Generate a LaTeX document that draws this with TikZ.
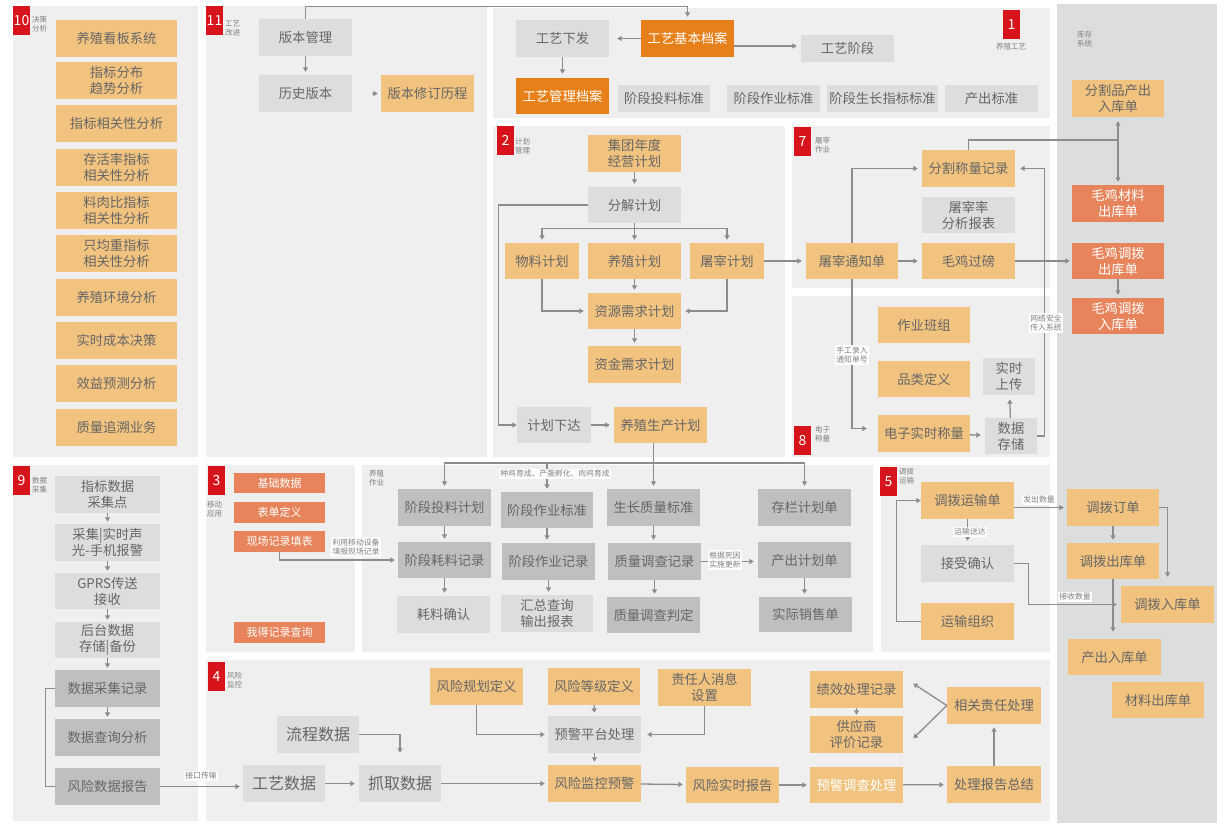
\documentclass[tikz,border=0pt]{standalone}
\usepackage{fontspec}
\setmainfont{Noto Sans CJK SC}
\usetikzlibrary{arrows.meta}

\definecolor{peach}{HTML}{F2C37F}
\definecolor{lgray}{HTML}{DCDDDD}
\definecolor{mgray}{HTML}{BFBFBF}
\definecolor{orng}{HTML}{E8801A}
\definecolor{salmon}{HTML}{E8845C}
\definecolor{badgered}{HTML}{D7141C}
\definecolor{panelc}{HTML}{EFEFEF}
\definecolor{storec}{HTML}{DCDDDD}
\definecolor{txtc}{HTML}{666666}
\definecolor{tagc}{HTML}{808080}
\definecolor{lnc}{HTML}{8C8C8C}

% box given by its corners: name, style, x1, y1, x2, y2, text
\newcommand\placebox[7]{%
  \pgfmathsetmacro\pbw{#5-#3}\pgfmathsetmacro\pbh{#6-#4}%
  \pgfmathsetmacro\pbx{(#3+#5)/2}\pgfmathsetmacro\pby{(#4+#6)/2}%
  \node[#2, minimum width=\pbw pt, minimum height=\pbh pt] (#1) at (\pbx,\pby) {#7};}

\tikzset{
  box/.style={inner sep=0pt, align=center, text=txtc, font=\fontsize{13.3}{16}\selectfont},
  pbox/.style={box, fill=peach},
  gbox/.style={box, fill=lgray},
  mbox/.style={box, fill=mgray},
  obox/.style={box, fill=orng, text=white},
  sbox/.style={box, fill=salmon, text=white},
  bigtext/.style={font=\fontsize{16}{19}\selectfont},
  smalltext/.style={font=\fontsize{11}{13}\selectfont},
  badge/.style={inner sep=0pt, fill=badgered, text=white, font=\fontsize{14}{14}\selectfont},
  tag/.style={inner sep=0pt, align=left, text=tagc, font=\fontsize{7.5}{9}\selectfont},
  note/.style={fill=white, text=tagc, inner sep=1.5pt, align=center, font=\fontsize{7.8}{9.5}\selectfont},
  arr/.style={draw=lnc, line width=1.3pt, -{Triangle[length=4.5pt,width=5pt]}},
  biarr/.style={draw=lnc, line width=1.3pt, {Triangle[length=4.5pt,width=5pt]}-{Triangle[length=4.5pt,width=5pt]}},
  lin/.style={draw=lnc, line width=1.3pt},
}

\begin{document}
\begin{tikzpicture}[x=1pt,y=-1pt]
\useasboundingbox (0,0) rectangle (1217,823);
\fill[white] (0,0) rectangle (1217,823);

% ---------- panels ----------
\fill[panelc] (13,6) rectangle (198,457);
\fill[panelc] (206,6) rectangle (487,457);
\fill[panelc] (493,8) rectangle (1050,118);
\fill[panelc] (493,126) rectangle (785,457);
\fill[panelc] (792,126) rectangle (1050,288);
\fill[panelc] (792,296) rectangle (1050,457);
\fill[storec] (1057,4) rectangle (1217,823);
\fill[panelc] (13,465) rectangle (198,821);
\fill[panelc] (206,465) rectangle (355,652);
\fill[panelc] (362,465) rectangle (873,652);
\fill[panelc] (881,465) rectangle (1050,652);
\fill[panelc] (206,660) rectangle (1050,821);

% ---------- badges and captions ----------
\placebox{b10}{badge}{13}{6}{30}{35}{10}
\node[tag, anchor=north west] (t10) at (32,16) {决策\\分析};
\placebox{b11}{badge}{206}{6}{223}{35}{11}
\node[tag, anchor=north west] (t11) at (225,20) {工艺\\改进};
\placebox{b1}{badge}{1003}{10}{1020}{39}{1}
\node[tag] (t1) at (1011,47) {养殖工艺};
\placebox{b2}{badge}{497}{126}{514}{155}{2}
\node[tag, anchor=north west] (t2) at (515,138) {计划\\管理};
\placebox{b7}{badge}{794}{127}{811}{156}{7}
\node[tag, anchor=north west] (t7) at (815,137) {屠宰\\作业};
\placebox{b8}{badge}{794}{426}{811}{455}{8}
\node[tag, anchor=north west] (t8) at (815,426) {电子\\称量};
\placebox{b9}{badge}{13}{466}{30}{495}{9}
\node[tag, anchor=north west] (t9) at (32,477) {数据\\采集};
\placebox{b3}{badge}{208}{466}{225}{495}{3}
\node[tag, anchor=north west] (t3) at (207,501) {移动\\应用};
\placebox{b5}{badge}{880}{467}{897}{496}{5}
\node[tag, anchor=north west] (t5) at (899,468) {调拨\\运输};
\placebox{b4}{badge}{208}{662}{225}{691}{4}
\node[tag, anchor=north west] (t4) at (227,672) {风险\\监控};
\node[tag, anchor=north west] (tn) at (369,470) {养殖\\作业};
\node[tag, anchor=north west] (ts) at (1077,31) {库存\\系统};

% ---------- 10 decision analysis ----------
\placebox{d1}{pbox}{56}{20}{177}{57}{养殖看板系统}
\placebox{d2}{pbox}{56}{62}{177}{99}{指标分布\\趋势分析}
\placebox{d3}{pbox}{56}{105}{177}{142}{指标相关性分析}
\placebox{d4}{pbox}{56}{149}{177}{186}{存活率指标\\相关性分析}
\placebox{d5}{pbox}{56}{192}{177}{229}{料肉比指标\\相关性分析}
\placebox{d6}{pbox}{56}{235}{177}{272}{只均重指标\\相关性分析}
\placebox{d7}{pbox}{56}{279}{177}{316}{养殖环境分析}
\placebox{d8}{pbox}{56}{322}{177}{359}{实时成本决策}
\placebox{d9}{pbox}{56}{365}{177}{402}{效益预测分析}
\placebox{d10}{pbox}{56}{409}{177}{446}{质量追溯业务}

% ---------- 11 process improvement ----------
\placebox{v1}{gbox}{259}{19}{352}{56}{版本管理}
\placebox{v2}{gbox}{259}{75}{352}{112}{历史版本}
\placebox{v3}{pbox}{381}{75}{474}{112}{版本修订历程}
\draw[arr, shorten >=3pt] (v1) -- (v2);
\draw[arr, shorten <=20pt, shorten >=3pt] (v2) -- (v3);

% ---------- 1 breeding process ----------
\placebox{k0}{gbox}{516}{20}{609}{57}{工艺下发}
\placebox{k2}{obox}{516}{78}{609}{114}{工艺管理档案}
\placebox{k1}{obox}{641}{20}{734}{57}{工艺基本档案}
\placebox{k3}{gbox}{801}{35}{894}{62}{工艺阶段}
\placebox{s1}{gbox}{618}{85}{710}{112}{阶段投料标准}
\placebox{s2}{gbox}{727}{85}{820}{112}{阶段作业标准}
\placebox{s3}{gbox}{827}{85}{938}{112}{阶段生长指标标准}
\placebox{s4}{gbox}{945}{85}{1038}{112}{产出标准}
\draw[arr, shorten >=3pt] (v1.north) -- ++(0,-12) -| (k1.north);
\draw[arr, shorten >=4pt] (k0) -- (k2);
\draw[arr, shorten >=8pt] (k1) -- (k0);
\draw[arr, shorten >=4pt] ([yshift=-7.5pt]k1.east) -- ([yshift=-7.5pt]k1.east -| k3.west);

% ---------- 2 planning ----------
\placebox{p1}{pbox}{588}{135}{681}{172}{集团年度\\经营计划}
\placebox{p2}{gbox}{588}{187}{681}{223}{分解计划}
\placebox{p3}{pbox}{505}{243}{579}{279}{物料计划}
\placebox{p4}{pbox}{588}{243}{681}{279}{养殖计划}
\placebox{p5}{pbox}{690}{243}{764}{279}{屠宰计划}
\placebox{p6}{pbox}{588}{293}{681}{329}{资源需求计划}
\placebox{p7}{pbox}{588}{346}{681}{383}{资金需求计划}
\placebox{p8}{gbox}{517}{407}{591}{443}{计划下达}
\placebox{p9}{pbox}{614}{407}{707}{443}{养殖生产计划}
\draw[arr, shorten >=3pt] (p1) -- (p2);
\coordinate (br) at ([yshift=-5pt]p2.south);
\draw[lin] (p2.south) -- (br);
\draw[arr, shorten >=3pt] (br) -| (p3.north);
\draw[arr, shorten >=3pt] (br) -- (p4.north);
\draw[arr, shorten >=3pt] (br) -| (p5.north);
\draw[arr, shorten >=3pt] (p4) -- (p6);
\draw[arr, shorten >=4pt] (p3.south) |- (p6.west);
\draw[arr, shorten >=4pt] (p5.south) |- (p6.east);
\draw[arr, shorten >=3pt] (p6) -- (p7);
\draw[arr] (p2.west) -- ++(-89,0) |- (p8.west);
\draw[arr, shorten >=4pt] (p8) -- (p9);

% ---------- 7 slaughter ----------
\placebox{u1}{pbox}{922}{150}{1015}{187}{分割称量记录}
\placebox{u2}{gbox}{922}{197}{1015}{233}{屠宰率\\分析报表}
\placebox{u3}{pbox}{806}{243}{898}{279}{屠宰通知单}
\placebox{u4}{pbox}{922}{243}{1015}{279}{毛鸡过磅}

% ---------- 8 electronic weighing ----------
\placebox{e1}{pbox}{878}{307}{970}{343}{作业班组}
\placebox{e2}{pbox}{878}{361}{970}{397}{品类定义}
\placebox{e3}{pbox}{878}{415}{970}{452}{电子实时称量}
\placebox{e4}{gbox}{983}{358}{1035}{395}{实时\\上传}
\placebox{e5}{gbox}{985}{418}{1037}{454}{数据\\存储}

% ---------- inventory column ----------
\placebox{w1}{pbox}{1072}{80}{1164}{117}{分割品产出\\入库单}
\placebox{w2}{sbox}{1072}{185}{1164}{222}{毛鸡材料\\出库单}
\placebox{w3}{sbox}{1072}{243}{1164}{279}{毛鸡调拨\\出库单}
\placebox{w4}{sbox}{1072}{298}{1164}{334}{毛鸡调拨\\入库单}

\draw[arr, shorten >=4pt] (p5) -- (u3);
\draw[arr, shorten >=4pt] (u3.north) |- (u1.west);
\draw[arr, shorten >=4pt] (u3) -- (u4);
\draw[arr, shorten >=11pt] (u3.south) |- ([yshift=5pt]e3.west);
\node[note] (n-manual) at (852,355) {手工录入\\通知单号};
\draw[arr, shorten >=4pt] (e3) -- (e5);
\draw[arr, shorten >=4pt] (e5) -- (e4);
\draw[arr, shorten >=5pt] (e5.east) -- ++(7,0) |- (u1.east);
\node[note] (n-net) at (1046,323) {网络安全\\传入系统};
\coordinate (wj) at (1118,140);
\draw[lin] (u1.north) |- (wj);
\draw[biarr, shorten <=4pt, shorten >=3pt] (w1.south) -- (w2.north);
\draw[arr, shorten >=2pt] (u4.east) -- (u4.east -| w3.west);
\draw[arr, shorten >=3pt] (w3) -- (w4);

% ---------- 9 data collection ----------
\placebox{c1}{gbox}{55}{476}{160}{513}{指标数据\\采集点}
\placebox{c2}{gbox}{55}{524}{160}{561}{采集|实时声\\光-手机报警}
\placebox{c3}{gbox}{55}{573}{160}{609}{GPRS传送\\接收}
\placebox{c4}{gbox}{55}{622}{160}{658}{后台数据\\存储|备份}
\placebox{c5}{mbox}{55}{670}{160}{707}{数据采集记录}
\placebox{c6}{mbox}{55}{719}{160}{756}{数据查询分析}
\placebox{c7}{mbox}{55}{768}{160}{805}{风险数据报告}
\draw[arr, shorten >=2pt] (c1) -- (c2);
\draw[arr, shorten >=2pt] (c2) -- (c3);
\draw[arr, shorten >=2pt] (c3) -- (c4);
\draw[arr, shorten >=2pt] (c4) -- (c5);
\draw[arr, shorten >=2pt] (c5) -- (c6);
\draw[lin] (c7.west) -- ++(-9,0) |- (c5.west);

% ---------- 3 mobile apps ----------
\placebox{m1}{sbox, smalltext}{234}{473}{325}{493}{基础数据}
\placebox{m2}{sbox, smalltext}{234}{502}{325}{523}{表单定义}
\placebox{m3}{sbox, smalltext}{234}{531}{325}{552}{现场记录填表}
\placebox{m4}{sbox, smalltext}{234}{622}{325}{643}{我得记录查询}

% ---------- breeding operations ----------
\placebox{n1}{mbox}{398}{489}{491}{526}{阶段投料计划}
\placebox{n2}{mbox}{501}{492}{593}{528}{阶段作业标准}
\placebox{n3}{mbox}{607}{489}{700}{526}{生长质量标准}
\placebox{n4}{mbox}{758}{489}{851}{526}{存栏计划单}
\placebox{n5}{mbox}{398}{542}{491}{578}{阶段耗料记录}
\placebox{n6}{mbox}{502}{543}{595}{580}{阶段作业记录}
\placebox{n7}{mbox}{608}{543}{701}{580}{质量调查记录}
\placebox{n8}{mbox}{758}{542}{851}{578}{产出计划单}
\placebox{n9}{gbox}{397}{596}{490}{633}{耗料确认}
\placebox{n10}{gbox}{501}{595}{593}{632}{汇总查询\\输出报表}
\placebox{n11}{mbox}{607}{597}{700}{633}{质量调查判定}
\placebox{n12}{mbox}{759}{597}{852}{632}{实际销售单}

\coordinate (hub) at (653.5,463);
\draw[lin] (p9.south -| hub) -- (hub);
\draw[arr, shorten >=3pt] (hub) -| (n1.north);
\draw[arr, shorten >=3pt] (hub) -| (n2.north);
\draw[arr, shorten >=3pt] (hub) -- (n3.north);
\draw[arr, shorten >=3pt] (hub) -| (n4.north);
\node[note] (n-lines) at (555,474) {种鸡育成、产蛋孵化、肉鸡育成};
\draw[arr, shorten >=3pt] (n1.south) -- (n1.south |- n5.north);
\draw[arr, shorten >=3pt] (n5.south) -- (n5.south |- n9.north);
\draw[arr, shorten >=3pt] (n2.south) -- (n2.south |- n6.north);
\draw[arr, shorten >=3pt] (n6.south) -- (n6.south |- n10.north);
\draw[arr, shorten >=3pt] (n3.south) -- (n3.south |- n7.north);
\draw[arr, shorten >=3pt] (n7.south) -- (n7.south |- n11.north);
\draw[arr, shorten >=3pt] (n8.south) -- (n8.south |- n12.north);
\draw[arr, shorten >=4pt] (n7.east) -- (n7.east -| n8.west);
\node[note] (n-death) at (725,560) {根据死因\\实施更新};
\draw[arr, shorten >=3pt] (m3.south) |- (n5.west);
\node[note] (n-mobile) at (356,547) {利用移动设备\\填报现场记录};

% ---------- 5 transfer transport ----------
\placebox{f1}{pbox}{921}{482}{1014}{519}{调拨运输单}
\placebox{f2}{gbox}{921}{545}{1014}{582}{接受确认}
\placebox{f3}{pbox}{921}{603}{1014}{640}{运输组织}
\placebox{g1}{pbox}{1067}{489}{1159}{526}{调拨订单}
\placebox{g2}{pbox}{1067}{543}{1159}{579}{调拨出库单}
\placebox{g3}{pbox}{1121}{586}{1214}{623}{调拨入库单}
\placebox{g4}{pbox}{1068}{639}{1161}{675}{产出入库单}
\placebox{g5}{pbox}{1112}{682}{1204}{718}{材料出库单}
\draw[arr, shorten >=4pt] (f1) -- (f2);
\node[note] (n-deliver) at (970,532) {运输送达};
\draw[arr] (f3.west) -- ++(-24,0) |- (f1.west);
\draw[arr, shorten >=3pt] (f1.east |- g1.west) -- (g1.west);
\node[note] (n-sent) at (1039,500) {发出数量};
\draw[arr, shorten >=3pt] (g1) -- (g2);
\draw[arr, shorten >=9pt] (g1.east) -| (g3.north);
\draw[arr, shorten >=7pt] (g2.south) -- (g2.south |- g4.north);
\draw[arr, shorten >=4pt] (f2.east) -- ++(14,0) |- (g3.west);
\node[note] (n-recv) at (1075,597) {接收数量};

% ---------- 4 risk monitoring ----------
\placebox{r1}{gbox, bigtext}{243}{765}{325}{802}{工艺数据}
\placebox{r2}{gbox, bigtext}{277}{716}{359}{753}{流程数据}
\placebox{r3}{gbox, bigtext}{359}{765}{441}{802}{抓取数据}
\placebox{r4}{pbox}{430}{668}{523}{705}{风险规划定义}
\placebox{r5}{pbox}{548}{668}{640}{705}{风险等级定义}
\placebox{r6}{gbox}{548}{716}{641}{753}{预警平台处理}
\placebox{r7}{pbox}{548}{765}{641}{802}{风险监控预警}
\placebox{r8}{pbox}{658}{669}{751}{706}{责任人消息\\设置}
\placebox{r9}{pbox}{686}{767}{779}{803}{风险实时报告}
\placebox{r10}{pbox, text=white}{810}{767}{903}{803}{预警调查处理}
\placebox{r11}{pbox}{810}{671}{903}{708}{绩效处理记录}
\placebox{r12}{pbox}{810}{716}{903}{753}{供应商\\评价记录}
\placebox{r13}{pbox}{947}{687}{1041}{724}{相关责任处理}
\placebox{r14}{pbox}{947}{766}{1041}{803}{处理报告总结}

\draw[arr, shorten >=3pt] (c7.east) -- (c7.east -| r1.west);
\node[note] (n-iface) at (201,776) {接口传输};
\draw[arr, shorten >=4pt] (r1) -- (r3);
\draw[arr, shorten >=12pt] (r2.east) -| (r3.north);
\draw[arr, shorten >=3pt] (r3) -- (r7);
\draw[arr, shorten >=3pt] (r4.south) |- (r6.west);
\draw[arr, shorten >=3pt] (r5) -- (r6);
\draw[arr, shorten >=3pt] (r6) -- (r7);
\draw[arr, shorten >=6pt] (r8.south) |- (r6.east);
\draw[arr, shorten >=3pt] (r7) -- (r9);
\draw[arr, shorten >=3pt] (r9) -- (r10);
\draw[arr, shorten >=3pt] (r10) -- (r14);
\draw[arr, shorten >=3pt] (r14) -- (r13);
\draw[arr] (r13.west) -- ([xshift=10pt,yshift=6pt]r11.east);
\draw[arr] (r13.west) -- ([xshift=10pt,yshift=-4pt]r12.east);
\draw[arr, shorten >=1pt] (r11) -- (r12);
\end{tikzpicture}
\end{document}
